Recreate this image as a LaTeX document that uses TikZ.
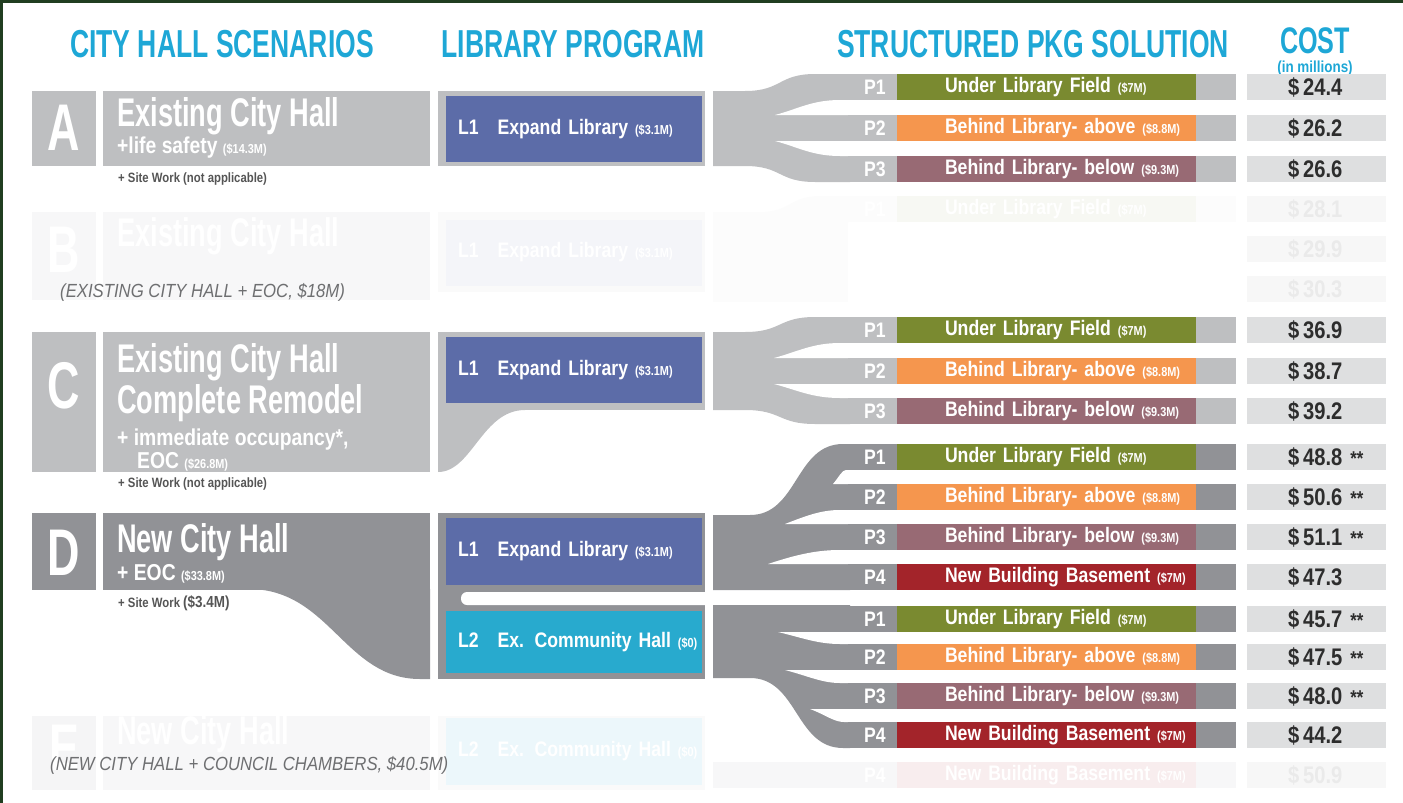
\documentclass[tikz,border=0pt]{standalone}
\usepackage{fontspec}
\setmainfont{Liberation Sans}
\newfontfamily\hdfont[FakeStretch=0.68]{Liberation Sans}
\newfontfamily\cond[FakeStretch=0.84]{Liberation Sans}
\newfontfamily\notefont[FakeStretch=0.88]{Liberation Sans}
\newcommand\fs[1]{\fontsize{#1}{#1}\selectfont}
\newcommand\sm[1]{{\fs{13}#1}}

\definecolor{frame}{RGB}{32,62,32}
\definecolor{hdcyan}{RGB}{30,167,214}
\definecolor{lgray}{RGB}{190,191,193}
\definecolor{dgray}{RGB}{145,146,150}
\definecolor{libblue}{RGB}{92,108,168}
\definecolor{libcyan}{RGB}{40,170,206}
\definecolor{polive}{RGB}{122,138,48}
\definecolor{porange}{RGB}{245,150,78}
\definecolor{pmauve}{RGB}{152,106,116}
\definecolor{pred}{RGB}{163,36,42}
\definecolor{costgray}{RGB}{222,223,224}
\definecolor{costtext}{RGB}{45,45,45}
\definecolor{sitegray}{RGB}{85,85,85}
\definecolor{notegray}{RGB}{110,111,113}

\begin{document}
\begin{tikzpicture}[x=1pt,y=-1pt,
  every node/.style={inner sep=0pt},
  head/.style={font=\hdfont\bfseries\fs{39}, text=hdcyan, anchor=base},
  letter/.style={font=\hdfont\bfseries\fs{66}, text=white},
  title/.style={font=\hdfont\bfseries\fs{40}, text=white, anchor=base west},
  sub/.style={font=\cond\bfseries\fs{23}, text=white, anchor=base west},
  site/.style={font=\cond\bfseries\fs{13.5}, text=sitegray, anchor=base west},
  libbox/.style={font=\cond\bfseries\fs{21}, text=white, text width=256pt, minimum height=66pt, align=left, execute at begin node=\hspace*{12pt}},
  plabel/.style={font=\cond\bfseries\fs{21}, text=white, anchor=base},
  pbox/.style={font=\cond\bfseries\fs{21}, text=white, text width=299pt, minimum height=26pt, align=left, execute at begin node=\hspace*{48pt}},
  cost/.style={font=\cond\bfseries\fs{24}, text=costtext, fill=costgray, text width=139pt, minimum height=26pt, align=left, execute at begin node=\hspace*{41pt}},
  note/.style={font=\notefont\itshape\fs{19}, text=notegray, anchor=base west}
]
\useasboundingbox (0,0) rectangle (1403,803);
\fill[frame] (0,0) rectangle (3,803);
\fill[frame] (0,0) rectangle (1403,3);

% column heads
\node[head] (hcity) at (222,57) {CITY HALL SCENARIOS};
\node[head] (hlib) at (573,57) {LIBRARY PROGRAM};
\node[head] (hpkg) at (1033,57) {STRUCTURED PKG SOLUTION};
\node[head, font=\hdfont\bfseries\fs{37}] (hcost) at (1315,53) {COST};
\node[font=\cond\bfseries\fs{16}, text=hdcyan, anchor=base] (hmil) at (1315,72) {(in millions)};

% faded scenario B
\fill[lgray!12] (32,212) rectangle (96,300);
\fill[lgray!12] (103,212) rectangle (430,300);
\fill[lgray!8] (438,212) rectangle (705,292);
\fill[lgray!5] (713,212) -- (760,212) .. controls (790,212) and (790,196) .. (820,196) -- (1236,196) -- (1236,222) -- (848,222) -- (848,302) -- (713,302) -- cycle;
\node[libbox, fill=libblue!7] (lb) at (574,252.5) {L1\hspace{19pt}Expand Library \sm{(\$3.1M)}};
\node[letter, text=white] (B) at (64,250) {B};
\node[title] (tb) at (117,246) {Existing City Hall};
\node[pbox, fill=polive!6] (b1) at (1046.5,209) {Under Library Field \sm{(\$7M)}};
\node[plabel] (pb1) at (875,216) {P1};
\node[cost, fill=costgray!25, text=costtext!10] (cb1) at (1316.5,209) {\$\,28.1};
\node[cost, fill=costgray!25, text=costtext!10] (cb2) at (1316.5,249) {\$\,29.9};
\node[cost, fill=costgray!25, text=costtext!10] (cb3) at (1316.5,289) {\$\,30.3};

% faded scenario E
\fill[lgray!15] (32,716) rectangle (96,790);
\fill[lgray!12] (103,716) rectangle (430,790);
\fill[lgray!8] (438,716) rectangle (705,790);
\fill[dgray!7] (713,762) rectangle (1236,788);
\node[libbox, fill=libcyan!9, minimum height=67pt] (le) at (574,751.5) {L2\hspace{19pt}Ex. Community Hall \sm{(\$0)}};
\node[letter] (E) at (64,748) {E};
\node[title] (te) at (117,744) {New City Hall};
\node[pbox, fill=pred!8] (e4) at (1046.5,775) {New Building Basement \sm{(\$7M)}};
\node[plabel] (pe4) at (875,782) {P4};
\node[cost, fill=costgray!25, text=costtext!10] (ce4) at (1316.5,775) {\$\,50.9};

% scenario A
\fill[lgray] (32,91) rectangle (96,166);
\fill[lgray] (103,91) rectangle (430,166);
\fill[lgray] (438,91) rectangle (705,166);
\fill[lgray] (713,91) -- (745,91) .. controls (782,91) and (778,74) .. (815,74) -- (850,74) -- (850,182) -- (815,182) .. controls (778,182) and (782,166) .. (745,166) -- (713,166) -- cycle;
\fill[white] (775,115) .. controls (798,109) and (812,100) .. (840,100) -- (851,100) -- (851,115) -- cycle;
\fill[white] (775,141) .. controls (798,147) and (812,156) .. (840,156) -- (851,156) -- (851,141) -- cycle;
\fill[lgray] (848,74) rectangle (1236,100);
\fill[lgray] (848,115) rectangle (1236,141);
\fill[lgray] (848,156) rectangle (1236,182);
\node[letter] (A) at (64,128) {A};
\node[title] (ta1) at (117,126) {Existing City Hall};
\node[sub] (ta2) at (117,153) {+life safety \sm{(\$14.3M)}};
\node[site] (ta3) at (118,182) {+ Site Work (not applicable)};
\node[libbox, fill=libblue] (la) at (574,129) {L1\hspace{19pt}Expand Library \sm{(\$3.1M)}};
\node[plabel] (pa1) at (875,94) {P1};
\node[plabel] (pa2) at (875,135) {P2};
\node[plabel] (pa3) at (875,176) {P3};
\node[pbox, fill=polive] (a1) at (1046.5,87) {Under Library Field \sm{(\$7M)}};
\node[pbox, fill=porange] (a2) at (1046.5,128) {Behind Library- above \sm{(\$8.8M)}};
\node[pbox, fill=pmauve] (a3) at (1046.5,169) {Behind Library- below \sm{(\$9.3M)}};
\node[cost] (ca1) at (1316.5,87) {\$\,24.4};
\node[cost] (ca2) at (1316.5,128) {\$\,26.2};
\node[cost] (ca3) at (1316.5,169) {\$\,26.6};

% scenario C
\fill[lgray] (32,332) rectangle (96,472);
\fill[lgray] (103,332) rectangle (430,472);
\fill[lgray] (438,332) rectangle (705,410);
\fill[lgray] (438,408) -- (438,472) .. controls (472,472) and (482,410) .. (525,410) -- cycle;
\fill[lgray] (713,332) -- (745,332) .. controls (782,332) and (778,317) .. (815,317) -- (850,317) -- (850,424) -- (815,424) .. controls (778,424) and (782,410) .. (745,410) -- (713,410) -- cycle;
\fill[white] (774,358) .. controls (797,352) and (812,343) .. (840,343) -- (851,343) -- (851,358) -- cycle;
\fill[white] (774,384) .. controls (797,390) and (812,398) .. (840,398) -- (851,398) -- (851,384) -- cycle;
\fill[lgray] (848,317) rectangle (1236,343);
\fill[lgray] (848,358) rectangle (1236,384);
\fill[lgray] (848,398) rectangle (1236,424);
\node[letter] (C) at (64,386) {C};
\node[title] (tc1) at (117,372) {Existing City Hall};
\node[title] (tc2) at (117,413) {Complete Remodel};
\node[sub] (tc3) at (117,445) {+ immediate occupancy*,};
\node[sub] (tc4) at (137,468) {EOC \sm{(\$26.8M)}};
\node[site] (tc5) at (118,487) {+ Site Work (not applicable)};
\node[libbox, fill=libblue] (lc) at (574,370) {L1\hspace{19pt}Expand Library \sm{(\$3.1M)}};
\node[plabel] (pc1) at (875,337) {P1};
\node[plabel] (pc2) at (875,378) {P2};
\node[plabel] (pc3) at (875,418) {P3};
\node[pbox, fill=polive] (c1) at (1046.5,330) {Under Library Field \sm{(\$7M)}};
\node[pbox, fill=porange] (c2) at (1046.5,371) {Behind Library- above \sm{(\$8.8M)}};
\node[pbox, fill=pmauve] (c3) at (1046.5,411) {Behind Library- below \sm{(\$9.3M)}};
\node[cost] (cc1) at (1316.5,330) {\$\,36.9};
\node[cost] (cc2) at (1316.5,371) {\$\,38.7};
\node[cost] (cc3) at (1316.5,411) {\$\,39.2};

% scenario D
\fill[dgray] (32,513) rectangle (96,590);
\fill[dgray] (103,513) rectangle (430,590);
\fill[dgray] (250,589) .. controls (330,590) and (345,679) .. (420,679) -- (430,679) -- (430,589) -- cycle;
\fill[dgray] (438,513) rectangle (705,679);
\fill[white, rounded corners=6pt] (461,592) rectangle (712,605);
% fan L1
\fill[dgray] (713,515) -- (750,515) .. controls (798,515) and (795,444) .. (843,444) -- (850,444) -- (850,590) -- (713,590) -- cycle;
\fill[white] (833,484) .. controls (839,477) and (842,470) .. (846,470) -- (851,470) -- (851,484) -- cycle;
\fill[white] (785,524) .. controls (808,515) and (822,510) .. (840,510) -- (851,510) -- (851,524) -- cycle;
\fill[white] (768,564) .. controls (798,554) and (818,550) .. (840,550) -- (851,550) -- (851,564) -- cycle;
% fan L2
\fill[dgray] (713,605) -- (850,605) -- (850,748) -- (843,748) .. controls (795,748) and (798,678) .. (750,678) -- (713,678) -- cycle;
\fill[white] (778,632) .. controls (803,638) and (818,644) .. (840,644) -- (851,644) -- (851,632) -- cycle;
\fill[white] (785,670) .. controls (808,676) and (822,683) .. (840,683) -- (851,683) -- (851,670) -- cycle;
\fill[white] (810,709) .. controls (826,715) and (834,722) .. (844,722) -- (851,722) -- (851,709) -- cycle;
\fill[dgray] (848,444) rectangle (1236,470);
\fill[dgray] (848,484) rectangle (1236,510);
\fill[dgray] (848,524) rectangle (1236,550);
\fill[dgray] (848,564) rectangle (1236,590);
\fill[dgray] (848,606) rectangle (1236,632);
\fill[dgray] (848,644) rectangle (1236,670);
\fill[dgray] (848,683) rectangle (1236,709);
\fill[dgray] (848,722) rectangle (1236,748);
\node[letter] (D) at (64,553) {D};
\node[title] (td1) at (117,552) {New City Hall};
\node[sub] (td2) at (117,580) {+ EOC \sm{(\$33.8M)}};
\node[site] (td3) at (118,607) {+ Site Work {\fs{16}(\$3.4M)}};
\node[libbox, fill=libblue, minimum height=67pt] (ld) at (574,551.5) {L1\hspace{19pt}Expand Library \sm{(\$3.1M)}};
\node[libbox, fill=libcyan, minimum height=62pt] (le2) at (574,642) {L2\hspace{19pt}Ex. Community Hall \sm{(\$0)}};
\node[plabel] (pd1) at (875,464) {P1};
\node[plabel] (pd2) at (875,504) {P2};
\node[plabel] (pd3) at (875,544) {P3};
\node[plabel] (pd4) at (875,584) {P4};
\node[plabel] (pe1) at (875,626) {P1};
\node[plabel] (pe2) at (875,664) {P2};
\node[plabel] (pe3) at (875,703) {P3};
\node[plabel] (pe4) at (875,742) {P4};
\node[pbox, fill=polive] (d1) at (1046.5,457) {Under Library Field \sm{(\$7M)}};
\node[pbox, fill=porange] (d2) at (1046.5,497) {Behind Library- above \sm{(\$8.8M)}};
\node[pbox, fill=pmauve] (d3) at (1046.5,537) {Behind Library- below \sm{(\$9.3M)}};
\node[pbox, fill=pred] (d4) at (1046.5,577) {New Building Basement \sm{(\$7M)}};
\node[pbox, fill=polive] (f1) at (1046.5,619) {Under Library Field \sm{(\$7M)}};
\node[pbox, fill=porange] (f2) at (1046.5,657) {Behind Library- above \sm{(\$8.8M)}};
\node[pbox, fill=pmauve] (f3) at (1046.5,696) {Behind Library- below \sm{(\$9.3M)}};
\node[pbox, fill=pred] (f4) at (1046.5,735) {New Building Basement \sm{(\$7M)}};
\node[cost] (cd1) at (1316.5,457) {\$\,48.8 {\fs{20}**}};
\node[cost] (cd2) at (1316.5,497) {\$\,50.6 {\fs{20}**}};
\node[cost] (cd3) at (1316.5,537) {\$\,51.1 {\fs{20}**}};
\node[cost] (cd4) at (1316.5,577) {\$\,47.3};
\node[cost] (cf1) at (1316.5,619) {\$\,45.7 {\fs{20}**}};
\node[cost] (cf2) at (1316.5,657) {\$\,47.5 {\fs{20}**}};
\node[cost] (cf3) at (1316.5,696) {\$\,48.0 {\fs{20}**}};
\node[cost] (cf4) at (1316.5,735) {\$\,44.2};

% notes over the faded rows
\node[note] (nb) at (60,297) {(EXISTING CITY HALL + EOC, \$18M)};
\node[note] (ne) at (50,770) {(NEW CITY HALL + COUNCIL CHAMBERS, \$40.5M)};
\end{tikzpicture}
\end{document}
